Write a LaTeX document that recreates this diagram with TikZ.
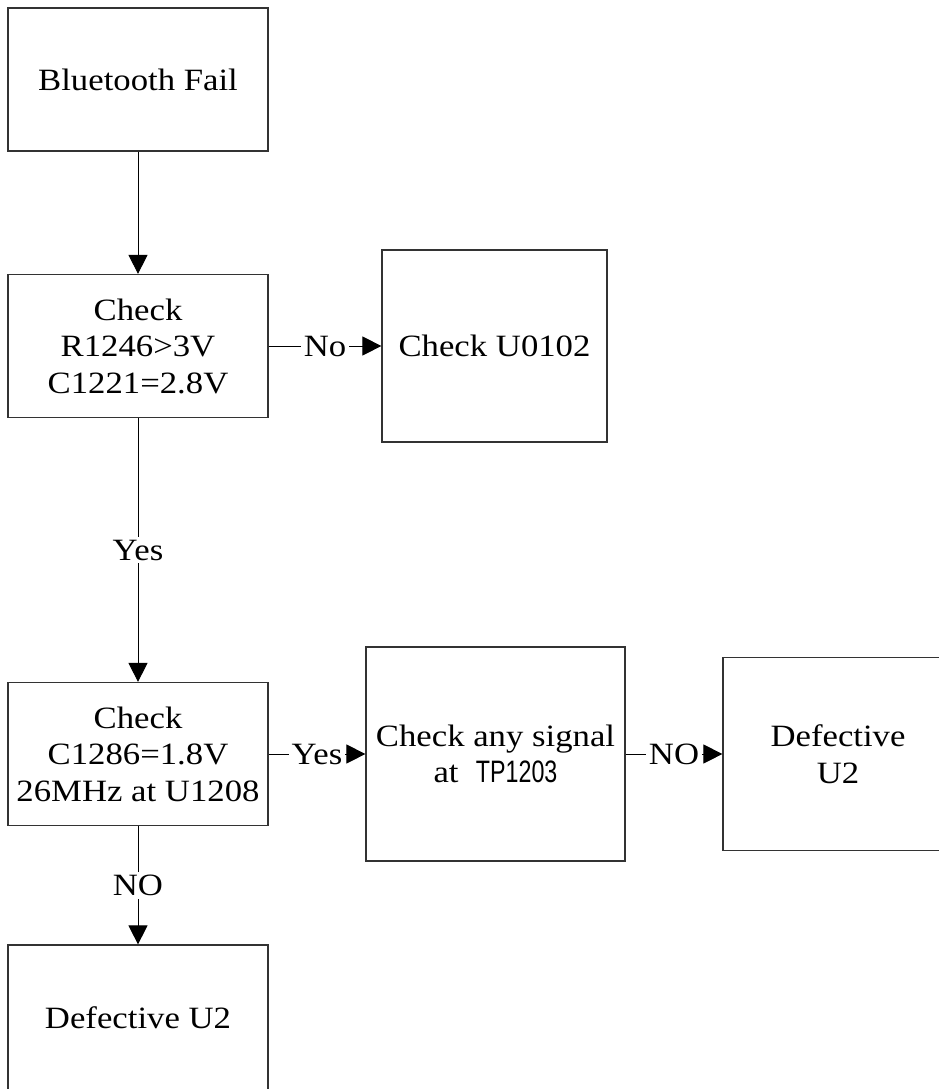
\documentclass[tikz,border=0pt]{standalone}
\usepackage{fontspec}
\setmainfont[FakeStretch=1.12]{Liberation Serif}
\newfontfamily\tpfont[FakeStretch=0.75]{Liberation Sans}
\usetikzlibrary{arrows.meta}

\begin{document}
\begin{tikzpicture}[
        x=1pt, y=-1pt,
        font=\fontsize{31}{36.5}\selectfont,
        box/.style={
            draw=black!80,
            line width=1.2pt,
            align=center,
            minimum width=260pt,
            minimum height=143pt,
            inner sep=0pt
        },
        arrow/.style={
            -{Triangle[length=19pt,width=19pt]},
            line width=0.9pt
        },
        lbl/.style={
            fill=white,
            inner sep=3pt
        }
    ]
    \useasboundingbox (0,0) rectangle (939,1089);

    % Left column
    \node[box] (fail) at (138,79.5) {Bluetooth Fail};
    \node[box] (power) at (138,346) {Check\\R1246>3V\\C1221=2.8V};
    \node[box] (clock) at (138,754) {Check\\C1286=1.8V\\26MHz at U1208};
    \node[box, minimum height=146pt] (defb) at (138,1018) {Defective U2};

    % Right side
    \node[box, minimum width=225pt, minimum height=192pt] (u0102) at (494.5,346) {Check U0102};
    \node[box, minimum width=259pt, minimum height=214pt] (signal) at (495.5,754) {Check any signal\\at\ \ {\tpfont TP1203}};
    \node[box, minimum width=230pt, minimum height=193pt] (defr) at (838,754) {Defective\\U2};

    \draw[arrow] (fail) -- (power);
    \draw[arrow] (power) -- node[lbl] {No} (u0102);
    \draw[arrow] (power) -- node[lbl] {Yes} (clock);
    \draw[arrow] (clock) -- node[lbl] {Yes} (signal);
    \draw[arrow] (signal) -- node[lbl] {NO} (defr);
    \draw[arrow] (clock) -- node[lbl] {NO} (defb);

\end{tikzpicture}
\end{document}
